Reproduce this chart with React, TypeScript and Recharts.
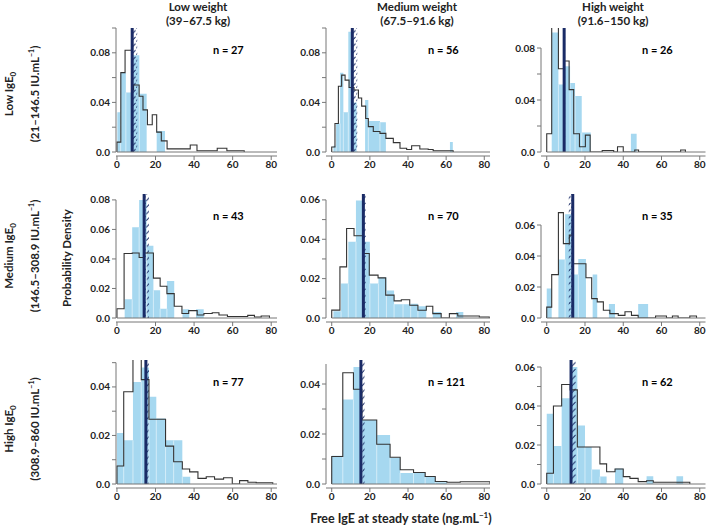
import React from 'react';
import { ComposedChart, Area, Line, XAxis, YAxis, ReferenceLine, ReferenceArea } from 'recharts';

// blue = observed histogram, outline = simulated histogram; rows = IgE0 group, cols = weight group
const obs11Edges = [0.2, 1.9, 4.6, 8.0, 11.6, 15.4, 20.6, 24.9];
const obs11Dens = [0.032, 0.064, 0.048, 0.078, 0.047, 0, 0.017];
const sim11Edges = [0, 2.0, 4.2, 7.7, 8.6, 11.5, 13.5, 15.8, 18.3, 20.6, 23, 26, 38, 41.5, 52, 57, 66];
const sim11Dens = [0.008, 0.064, 0.082, 0.05, 0.054, 0.045, 0.034, 0.022, 0.03, 0.016, 0.009, 0.0025, 0.0057, 0.001, 0.003, 0.001];

const obs12Edges = [0.9, 2.3, 4.4, 6.1, 8.7, 11.0, 13.1, 17.5, 19.2, 25.3, 28.4, 62, 63.5];
const obs12Dens = [0.005, 0.023, 0.064, 0.032, 0.097, 0.04, 0, 0.042, 0.025, 0.024, 0, 0.008];
const sim12Edges = [0, 1.7, 3.5, 5.2, 7.0, 9.1, 11.7, 14.0, 15.7, 17.8, 19.2, 21.8, 25.3, 28.4, 32.3, 35.8, 39.3, 41.9, 46.2, 50.6, 53.2, 58.5, 63.7];
const sim12Dens = [0.004, 0.023, 0.053, 0.062, 0.058, 0.052, 0.05, 0.0435, 0.037, 0.027, 0.0205, 0.0165, 0.015, 0.011, 0.0076, 0.003, 0.002, 0.005, 0.0024, 0.002, 0.001, 0.001];

const obs13Edges = [2.6, 6.1, 8.7, 12.2, 14.8, 18.3, 23.0, 44, 47];
const obs13Dens = [0.092, 0.052, 0.066, 0.053, 0.043, 0.015, 0, 0.014];
const sim13Edges = [0, 2.6, 6.1, 9.1, 11.7, 14.1, 17.1, 20.2, 22.7, 29, 35, 37, 40, 46, 48, 70, 72.5];
const sim13Dens = [0.014, 0.1, 0.064, 0.07, 0.048, 0.014, 0.004, 0.013, 0, 0.0012, 0, 0.004, 0, 0.0015, 0, 0.0015];

const obs21Edges = [4.0, 7.9, 11.5, 15.4, 18.9, 22.4, 25.9, 29.7, 34, 37.5, 41, 45];
const obs21Dens = [0.0127, 0.0614, 0.08, 0.049, 0.0188, 0.0063, 0.025, 0, 0.006, 0, 0.006];
const sim21Edges = [0, 3.7, 7.9, 11.5, 14.1, 18.9, 22.4, 25.9, 29.7, 33.7, 37.2, 41.6, 45.1, 49.4, 52.9, 57.3, 67.8, 71.3, 74.8, 79.1];
const sim21Dens = [0.0063, 0.0437, 0.044, 0.041, 0.044, 0.027, 0.0215, 0.0165, 0.008, 0.003, 0.005, 0.002, 0.003, 0.0036, 0.002, 0.001, 0.0018, 0.0007, 0.0014];

const obs22Edges = [0.9, 4.9, 8.7, 12.7, 16.5, 20, 24.5, 28.7, 32.7, 37.4, 41.4, 45.2, 49.6, 53, 57.4, 65.2, 69];
const obs22Dens = [0.0034, 0.0175, 0.0388, 0.0597, 0.0388, 0.0175, 0.0206, 0.014, 0.007, 0.007, 0.0073, 0.006, 0, 0.003, 0, 0.003];
const sim22Edges = [0, 4.3, 7.8, 11.7, 16.5, 19.7, 24.3, 28.3, 32.7, 36.5, 40.9, 45.2, 49.6, 53, 57.4, 61.7, 66.1, 70.4, 77.4, 82.6];
const sim22Dens = [0.004, 0.026, 0.0455, 0.0418, 0.0328, 0.0218, 0.0204, 0.0116, 0.0087, 0.0093, 0.0065, 0.0039, 0.006, 0.0022, 0, 0.0022, 0.001, 0.001, 0.0005];

const obs23Edges = [0, 2.6, 6.1, 9.6, 13.5, 16.5, 20.5, 24, 26.4, 32.5, 35.7, 47.8, 53];
const obs23Dens = [0.019, 0, 0.0378, 0.067, 0.028, 0.038, 0, 0.028, 0, 0.009, 0, 0.009];
const sim23Edges = [0, 2.6, 6.1, 8.7, 11.8, 13.9, 20.5, 23.5, 26.4, 29.6, 33, 37.4, 40.9, 44.3, 47.8, 56.9, 62.6, 65.7, 68.7, 74.8, 78.3];
const sim23Dens = [0.007, 0.028, 0.068, 0.048, 0.0535, 0.035, 0.026, 0.0125, 0.0104, 0.005, 0.0028, 0.0017, 0.004, 0.0017, 0, 0.0013, 0, 0.0013, 0, 0.0013];

const obs31Edges = [0, 3.5, 8.3, 12.6, 16.6, 20.4, 25.2, 29.4, 33.9, 38];
const obs31Dens = [0.021, 0.018, 0.042, 0.048, 0.036, 0.027, 0.018, 0.018, 0.003];
const sim31Edges = [0, 3.5, 8.3, 12.6, 16.6, 25.2, 29.4, 33.9, 37.7, 42, 46.3, 50.6, 55.3, 59.8, 63.6, 67.9, 72.2, 80.8];
const sim31Dens = [0.0074, 0.038, 0.056, 0.043, 0.0267, 0.0156, 0.0092, 0.0062, 0.005, 0.0023, 0.003, 0.002, 0.0026, 0, 0.0014, 0.0007, 0.0005];

const obs32Edges = [0, 5.8, 11.4, 15.8, 23.6, 30.6, 35.9, 42.9, 49, 54.3, 60.4];
const obs32Dens = [0.0113, 0.0338, 0.0468, 0.0256, 0.0196, 0.0105, 0.0044, 0.0044, 0.0028, 0.0007];
const sim32Edges = [0, 5.8, 11.4, 15.8, 23.6, 30.6, 35.9, 42.9, 49, 54.3, 60.4, 67.4, 83];
const sim32Dens = [0.011, 0.0445, 0.0379, 0.0256, 0.0159, 0.0107, 0.0057, 0.0046, 0.003, 0.001, 0.0007, 0.0009];

const obs33Edges = [0, 3.5, 7.8, 12.2, 16, 20, 23.5, 27.8, 31.3, 35.7, 40, 52.2, 55.7, 67.8, 71.3];
const obs33Dens = [0.036, 0.0195, 0.044, 0.06, 0.03, 0.019, 0.0075, 0.0038, 0, 0.008, 0, 0.004, 0, 0.004];
const sim33Edges = [0, 3.5, 7.8, 12.2, 16, 27.8, 31.3, 35.7, 40, 43.5, 47.8, 52.2, 55.7, 74.8];
const sim33Dens = [0.0055, 0.04, 0.051, 0.0483, 0.019, 0.0103, 0.0063, 0.0077, 0.0038, 0.0029, 0.0012, 0.0017, 0.0009];

const medians = [7.9, 10.8, 9.1, 14.1, 16.6, 13.6, 15.0, 15.3, 12.7];
const ciLow = [7.9, 10.8, 8.6, 14.1, 16.6, 11.5, 15.0, 15.3, 12.7];
const ciHigh = [10.5, 13.4, 9.6, 16.6, 18.0, 13.6, 16.6, 17.2, 15.3];
const nObs = [27, 56, 26, 43, 70, 35, 77, 121, 62];

const xTicks = [0, 20, 40, 60, 80];
const yTicksA = [0, 0.02, 0.04, 0.06, 0.08, 0.1];
const yLabelsA = ['0.0', '', '0.04', '', '0.08', ''];
const yTicksB = [0, 0.02, 0.04, 0.06, 0.08];
const yLabelsB = ['0.0', '', '0.04', '', '0.08'];
const yLabelsC = ['0.0', '0.02', '0.04', '0.06', '0.08'];
const yTicksD = [0, 0.01, 0.02, 0.03, 0.04, 0.05, 0.06];
const yLabelsD = ['0.0', '', '0.02', '', '0.04', '', '0.06'];
const yTicksE = [0, 0.02, 0.04, 0.06];
const yLabelsE = ['0.0', '0.02', '0.04', '0.06'];
const yTicksF = [0, 0.01, 0.02, 0.03, 0.04, 0.05];
const yLabelsF = ['0.0', '', '0.02', '', '0.04', ''];
const yTicksG = [0, 0.01, 0.02, 0.03, 0.04];
const yLabelsG = ['0.0', '', '0.02', '', '0.04'];

const colTitles = [['Low weight', '(39–67.5 kg)'], ['Medium weight', '(67.5–91.6 kg)'], ['High weight', '(91.6–150 kg)']];
const rowNames = ['Low', 'Medium', 'High'];
const rowRanges = ['(21–146.5 IU.mL', '(146.5–308.9 IU.mL', '(308.9–860 IU.mL'];

const font = 'Lato, "Open Sans", sans-serif';
const colLeft = [116, 326, 541];
const colWidth = [161, 164, 164.5];
const colXMin = [-0.5, -3, -3];
const rowTop = [28, 194, 360];
const plotH = 124;
const yAxisW = 40;

const panels = [
  { obsE: obs11Edges, obsD: obs11Dens, simE: sim11Edges, simD: sim11Dens, yMax: 0.1, yTicks: yTicksA, yLabels: yLabelsA, yTop: 0.1 },
  { obsE: obs12Edges, obsD: obs12Dens, simE: sim12Edges, simD: sim12Dens, yMax: 0.1, yTicks: yTicksA, yLabels: yLabelsA, yTop: 0.1 },
  { obsE: obs13Edges, obsD: obs13Dens, simE: sim13Edges, simD: sim13Dens, yMax: 0.0954, yTicks: yTicksB, yLabels: yLabelsB, yTop: 0.08 },
  { obsE: obs21Edges, obsD: obs21Dens, simE: sim21Edges, simD: sim21Dens, yMax: 0.084, yTicks: yTicksB, yLabels: yLabelsC, yTop: 0.08 },
  { obsE: obs22Edges, obsD: obs22Dens, simE: sim22Edges, simD: sim22Dens, yMax: 0.063, yTicks: yTicksD, yLabels: yLabelsD, yTop: 0.06 },
  { obsE: obs23Edges, obsD: obs23Dens, simE: sim23Edges, simD: sim23Dens, yMax: 0.08, yTicks: yTicksE, yLabels: yLabelsE, yTop: 0.06 },
  { obsE: obs31Edges, obsD: obs31Dens, simE: sim31Edges, simD: sim31Dens, yMax: 0.0511, yTicks: yTicksF, yLabels: yLabelsF, yTop: 0.05 },
  { obsE: obs32Edges, obsD: obs32Dens, simE: sim32Edges, simD: sim32Dens, yMax: 0.0496, yTicks: yTicksG, yLabels: yLabelsG, yTop: 0.048 },
  { obsE: obs33Edges, obsD: obs33Dens, simE: sim33Edges, simD: sim33Dens, yMax: 0.0636, yTicks: yTicksD, yLabels: yLabelsD, yTop: 0.06 },
];

// histogram -> step points (closed at both ends)
function steps(edges: number[], dens: number[]) {
  const pts = [{ x: edges[0], y: 0 }];
  dens.forEach((d, i) => pts.push({ x: edges[i], y: d }));
  pts.push({ x: edges[edges.length - 1], y: 0 });
  return pts;
}

function Panel({ i }: { i: number }) {
  const p = panels[i];
  const col = i % 3;
  const row = Math.floor(i / 3);
  const xMin = colXMin[col];
  const left = colLeft[col] - yAxisW;
  const top = rowTop[row] - 6;
  const width = yAxisW + colWidth[col] + 1;
  const height = 6 + plotH + 4 + 24;
  const tickStyle = { fontSize: 10, fontWeight: 700, fill: '#222', fontFamily: font };
  // thin white gaps between adjacent blue bars
  const seps = p.obsE.slice(1, -1)
    .map((e, k) => ({ x: e, h: Math.min(p.obsD[k], p.obsD[k + 1], p.yMax) }))
    .filter((s) => s.h > 0);
  return (
    <div style={{ position: 'absolute', left, top }}>
      <ComposedChart width={width} height={height} margin={{ top: 6, right: 1, bottom: 0, left: 0 }}>
        <defs>
          <pattern id={`hatch${i}`} patternUnits="userSpaceOnUse" width="5" height="6.6">
            <path d="M0.3,6.2 L4.6,1.8" stroke="#1a2b66" strokeWidth="1" />
          </pattern>
        </defs>
        <XAxis type="number" dataKey="x" domain={[xMin, 83]} allowDataOverflow height={4} axisLine={false} tick={false} tickLine={false} />
        <XAxis xAxisId="t" type="number" dataKey="x" domain={[xMin, 83]} allowDataOverflow height={24} ticks={xTicks}
          axisLine={{ stroke: '#777' }} tickLine={{ stroke: '#777' }} tickSize={4} tickMargin={1} tick={tickStyle} interval={0} />
        <YAxis type="number" domain={[0, p.yMax]} allowDataOverflow width={yAxisW} ticks={p.yTicks} interval={0}
          tickFormatter={(v: number, k: number) => p.yLabels[k]} axisLine={false} tickLine={{ stroke: '#777' }} tickSize={4} tickMargin={2} tick={tickStyle} />
        <Area data={steps(p.obsE, p.obsD)} dataKey="y" type="stepAfter" fill="#a6d8f0" fillOpacity={1} stroke="none" isAnimationActive={false} />
        {seps.map((s) => (
          <ReferenceLine key={s.x} segment={[{ x: s.x, y: 0 }, { x: s.x, y: s.h }]} stroke="#dff1fa" strokeWidth={0.8} />
        ))}
        <Line data={steps(p.simE, p.simD)} dataKey="y" type="stepAfter" stroke="#333" strokeWidth={1.1} dot={false} isAnimationActive={false} />
        <ReferenceArea x1={ciLow[i]} x2={ciHigh[i]} fill={`url(#hatch${i})`} fillOpacity={1} stroke="none" />
        <ReferenceLine x={medians[i]} stroke="#1a2b66" strokeWidth={3} />
        <ReferenceLine segment={[{ x: xMin, y: 0 }, { x: xMin, y: p.yTop }]} stroke="#777" />
        <ReferenceLine segment={[{ x: 0, y: 0 }, { x: 83, y: 0 }]} stroke="#777" />
      </ComposedChart>
      <div style={{ position: 'absolute', left: (col === 0 ? 213 : col === 1 ? 428 : 642) - left, top: [50, 216, 382][row] - top - 7, fontSize: 11, fontWeight: 700, fontFamily: font, whiteSpace: 'nowrap', lineHeight: '14px' }}>
        n = {nObs[i]}
      </div>
    </div>
  );
}

export default function App() {
  const bold = { fontFamily: font, fontWeight: 700, color: '#222', whiteSpace: 'nowrap' as const };
  return (
    <div style={{ position: 'absolute', left: 0, top: 0, width: 707, height: 526, background: '#fff', overflow: 'hidden' }}>
      {panels.map((_, i) => <Panel key={i} i={i} />)}
      {colTitles.map((t, c) => (
        <div key={c} style={{ ...bold, position: 'absolute', left: [198, 417, 613][c], top: 0, transform: 'translateX(-50%)', textAlign: 'center', fontSize: 11.5, lineHeight: '14px' }}>
          {t[0]}<br />{t[1]}
        </div>
      ))}
      {rowNames.map((r, k) => (
        <div key={r} style={{ ...bold, position: 'absolute', left: 22, top: [94, 256, 429][k], transform: 'translate(-50%,-50%) rotate(-90deg)', textAlign: 'center', fontSize: 11.5, lineHeight: '18px' }}>
          {r} IgE<sub style={{ fontSize: 8 }}>0</sub><br />{rowRanges[k]}<sup style={{ fontSize: 7 }}>−1</sup>)
        </div>
      ))}
      <div style={{ ...bold, position: 'absolute', left: 66, top: 258, transform: 'translate(-50%,-50%) rotate(-90deg)', fontSize: 11.5 }}>
        Probability Density
      </div>
      <div style={{ ...bold, position: 'absolute', left: 401, top: 518, transform: 'translate(-50%,-50%)', fontSize: 12.5 }}>
        Free IgE at steady state (ng.mL<sup style={{ fontSize: 8 }}>−1</sup>)
      </div>
    </div>
  );
}
